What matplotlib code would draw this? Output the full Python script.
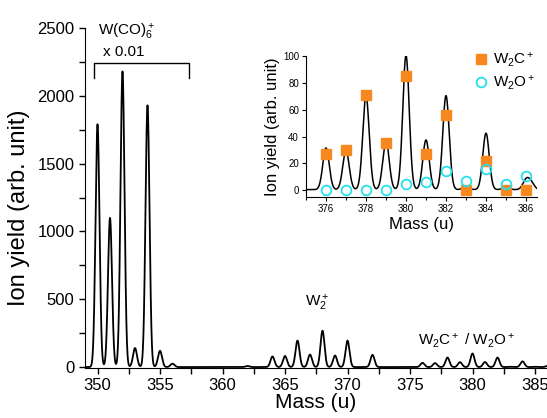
import numpy as np
import matplotlib
matplotlib.use("Agg")
import matplotlib.pyplot as plt
from matplotlib.ticker import MultipleLocator

plt.rcParams['font.family'] = ['Liberation Sans', 'DejaVu Sans']
plt.rcParams['mathtext.fontset'] = 'custom'
plt.rcParams['mathtext.rm'] = 'Liberation Sans'
plt.rcParams['mathtext.it'] = 'Liberation Sans:italic'

# peak positions (u) and heights (arb. unit)
peak_mass = [350, 351, 352, 353, 354, 355, 356, 362,
             364, 365, 366, 367, 368, 369, 370, 372,
             376, 377, 378, 379, 380, 381, 382, 383, 384, 385, 386, 386.25]
peak_height = [1790, 1100, 2180, 140, 1930, 120, 25, 8,
               78, 82, 195, 92, 268, 85, 195, 90,
               31, 29, 70, 36, 100, 37, 70, 2, 42, 2, 7, 5]
peak_width = 0.16

# inset markers
marker_mass = [376, 377, 378, 379, 380, 381, 382, 383, 384, 385, 386]
w2c = [27, 30, 71, 35, 85, 27, 56, 0, 22, 0, 0]
w2o = [0, 0, 0, 0, 5, 6, 14, 7, 16, 5, 11]

orange = '#f7881f'
cyan = '#25e0ec'

m = np.linspace(348, 388, 8000)
y = np.zeros_like(m)
for p, h in zip(peak_mass, peak_height):
    y += h * np.exp(-0.5 * ((m - p) / peak_width) ** 2)

fig = plt.figure(figsize=(5.47, 4.18), dpi=100)
ax = fig.add_axes([0.1554, 0.1196, 0.8446, 0.8134])
ax.plot(m, y, color='black', lw=1.3)
ax.set_xlim(349.0, 385.96)
ax.set_ylim(-7, 2500)
ax.spines['top'].set_visible(False)
ax.spines['right'].set_visible(False)
ax.xaxis.set_major_locator(MultipleLocator(5))
ax.xaxis.set_minor_locator(MultipleLocator(2.5))
ax.yaxis.set_major_locator(MultipleLocator(500))
ax.yaxis.set_minor_locator(MultipleLocator(250))
ax.tick_params(which='both', direction='out', length=4, width=1, labelsize=12)
ax.tick_params(which='minor', length=4)
ax.set_xlabel('Mass (u)', fontsize=15, labelpad=0)
ax.set_ylabel('Ion yield (arb. unit)', fontsize=17, labelpad=4)
ax.yaxis.set_label_coords(-0.118, 0.47)

# bracket over the W(CO)6+ group
ax.plot([349.7, 349.7, 357.3, 357.3], [2130, 2240, 2240, 2130], color='black', lw=1)
ax.text(350.0, 2470, r'W(CO)$_6^+$', fontsize=11, va='center', ha='left')
ax.text(350.4, 2320, 'x 0.01', fontsize=11, va='center', ha='left')
ax.text(367.6, 470, r'W$_2^+$', fontsize=11, va='center', ha='center')
ax.text(375.6, 190, r'W$_2$C$^+$ / W$_2$O$^+$', fontsize=11, va='center', ha='left')

# inset
ins = fig.add_axes([0.5594, 0.5287, 0.4223, 0.3373])
ins.plot(m, y + 0.5, color='black', lw=1.1)
ins.plot(marker_mass, w2c, 's', color=orange, ms=6.5, label=r'W$_2$C$^+$')
ins.plot(marker_mass, w2o, 'o', mfc='none', mec=cyan, mew=1.3, ms=7, label=r'W$_2$O$^+$')
ins.set_xlim(375.0, 386.55)
ins.set_ylim(-5, 100)
ins.spines['top'].set_visible(False)
ins.spines['right'].set_visible(False)
ins.xaxis.set_major_locator(MultipleLocator(2))
ins.xaxis.set_minor_locator(MultipleLocator(1))
ins.yaxis.set_major_locator(MultipleLocator(20))
ins.tick_params(which='both', direction='out', length=3, width=0.8, labelsize=7, pad=2)
ins.tick_params(which='minor', length=2)
ins.set_xlabel('Mass (u)', fontsize=12, labelpad=2)
ins.set_ylabel('Ion yield (arb. unit)', fontsize=12, labelpad=2)
ins.legend(loc='upper right', bbox_to_anchor=(1.02, 1.08), frameon=False, fontsize=11,
           handlelength=0.8, handletextpad=0.4, labelspacing=0.3, borderaxespad=0)

fig.savefig('out.png', dpi=100)
